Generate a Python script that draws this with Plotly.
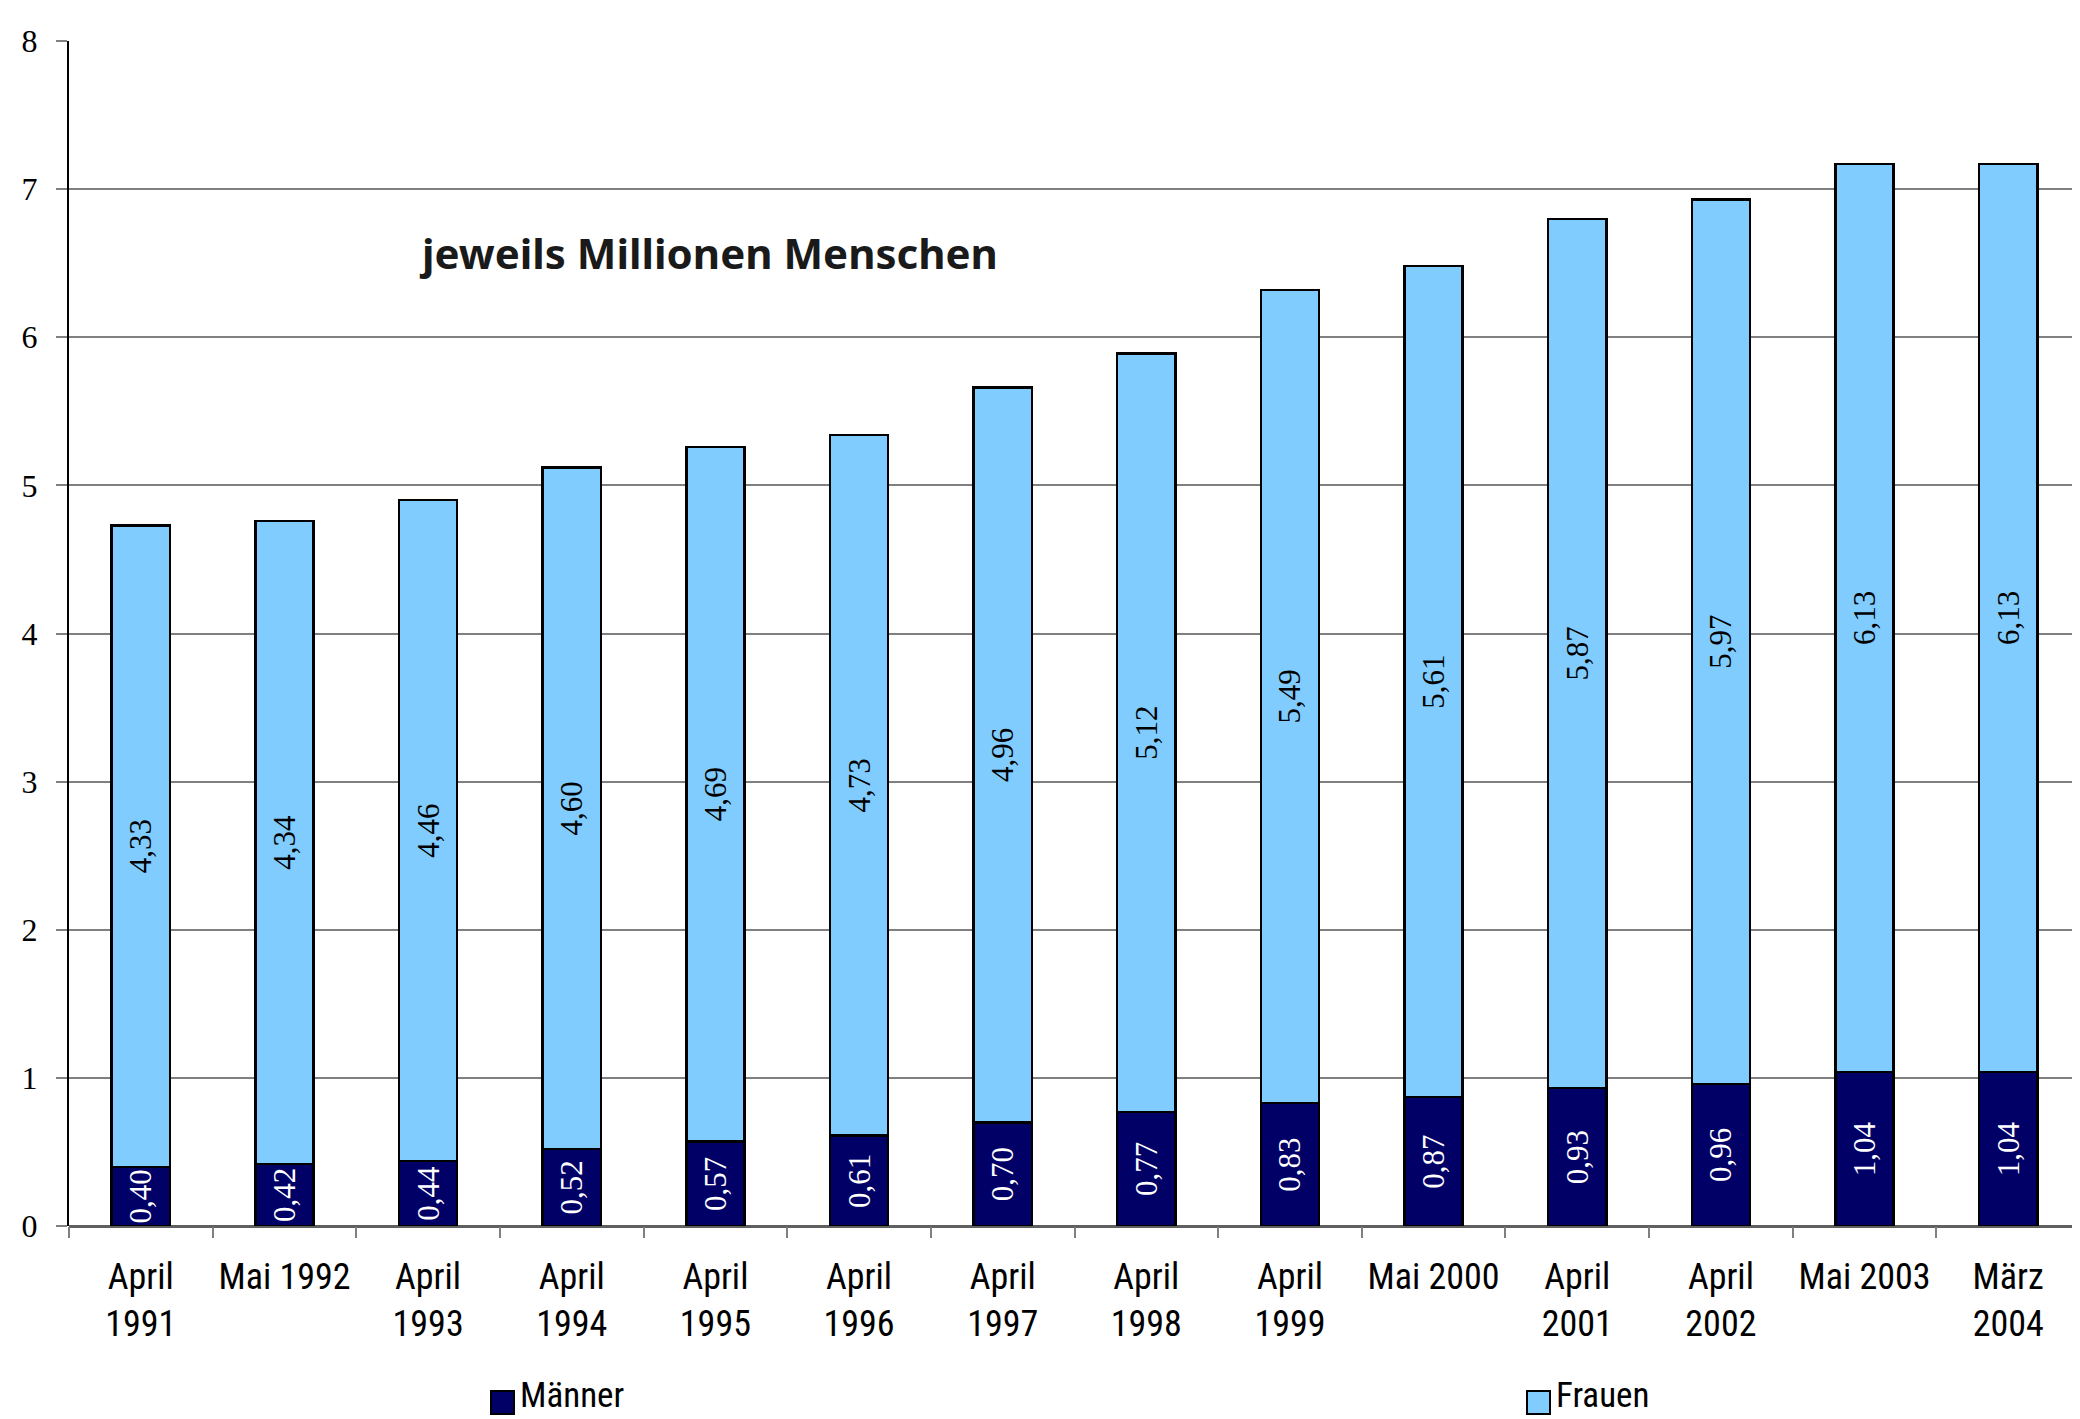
import plotly.graph_objects as go

categories = ["April 1991", "Mai 1992", "April 1993", "April 1994", "April 1995",
              "April 1996", "April 1997", "April 1998", "April 1999", "Mai 2000",
              "April 2001", "April 2002", "Mai 2003", "März 2004"]
tick_labels = ["April<br>1991", "Mai 1992", "April<br>1993", "April<br>1994", "April<br>1995",
               "April<br>1996", "April<br>1997", "April<br>1998", "April<br>1999", "Mai 2000",
               "April<br>2001", "April<br>2002", "Mai 2003", "März<br>2004"]
maenner = [0.40, 0.42, 0.44, 0.52, 0.57, 0.61, 0.70, 0.77, 0.83, 0.87, 0.93, 0.96, 1.04, 1.04]
frauen = [4.33, 4.34, 4.46, 4.60, 4.69, 4.73, 4.96, 5.12, 5.49, 5.61, 5.87, 5.97, 6.13, 6.13]
y_ticks = [0, 1, 2, 3, 4, 5, 6, 7, 8]

def de(v):
    return f"{v:.2f}".replace(".", ",")

NAVY = "#000066"
LIGHT = "#80CCFF"
LABEL_FONT = "Liberation Serif, Times New Roman, serif"
SANS = "Liberation Sans Narrow, Roboto Condensed, Open Sans, sans-serif"

fig = go.Figure()
fig.add_trace(go.Bar(
    x=categories, y=maenner, name="Männer",
    marker=dict(color=NAVY, line=dict(color="black", width=2.5)),
    text=[de(v) for v in maenner], textposition="inside", insidetextanchor="middle",
    textangle=-90, constraintext="none",
    textfont=dict(family=LABEL_FONT, size=31, color="white"),
    showlegend=False,
))
fig.add_trace(go.Bar(
    x=categories, y=frauen, name="Frauen",
    marker=dict(color=LIGHT, line=dict(color="black", width=2.5)),
    text=[de(v) for v in frauen], textposition="inside", insidetextanchor="middle",
    textangle=-90, constraintext="none",
    textfont=dict(family=LABEL_FONT, size=31, color="black"),
    showlegend=False,
))

# page body has an 8px default margin, so the figure is sized/offset accordingly
W, H = 2072, 1411
ml, mr, mt, mb = 61, 0, 33, 193

fig.update_layout(
    width=W, height=H, barmode="stack", bargap=0.595,
    plot_bgcolor="white", paper_bgcolor="white",
    margin=dict(l=ml, r=mr, t=mt, b=mb, autoexpand=False),
    uniformtext=dict(mode=False),
    xaxis=dict(
        type="category", tickmode="array", tickvals=categories, ticktext=tick_labels,
        tickson="boundaries", ticks="outside", ticklen=11, tickcolor="#808080", tickwidth=2,
        showline=False, showgrid=False, automargin=False,
        tickfont=dict(family=SANS, size=36, color="black"),
        ticklabelstandoff=26,
    ),
    yaxis=dict(
        range=[0, 8], tickvals=y_ticks, ticks="outside", ticklen=11, tickcolor="#808080", tickwidth=2,
        showgrid=True, gridcolor="#808080", gridwidth=2, automargin=False,
        zeroline=True, zerolinecolor="#606060", zerolinewidth=3,
        showline=True, linecolor="black", linewidth=2,
        tickfont=dict(family=LABEL_FONT, size=32, color="black"),
        ticklabelstandoff=12,
    ),
)

fig.add_annotation(
    text="<b>jeweils Millionen Menschen</b>", xref="paper", yref="y",
    x=0.318, y=6.57, showarrow=False, xanchor="center", yanchor="middle",
    font=dict(family="Noto Sans, Open Sans, sans-serif", size=42, color="#1a1a1a"),
)

# legend (manual, bottom); pixel positions given in page coordinates
OFF = 8
def px_to_paper_x(px):
    return (px - OFF - ml) / (W - ml - mr)

def px_to_paper_y(py):
    return (H - mb - (py - OFF)) / (H - mt - mb)

for sq_x, col, label in [(491, NAVY, "Männer"), (1527, LIGHT, "Frauen")]:
    fig.add_shape(type="rect", xref="paper", yref="paper",
                  x0=px_to_paper_x(sq_x), x1=px_to_paper_x(sq_x + 23),
                  y0=px_to_paper_y(1414), y1=px_to_paper_y(1391),
                  fillcolor=col, line=dict(color="black", width=2))
    fig.add_annotation(text=label, xref="paper", yref="paper",
                       x=px_to_paper_x(sq_x + 28), y=px_to_paper_y(1395),
                       showarrow=False, xanchor="left", yanchor="middle", borderpad=0,
                       font=dict(family=SANS, size=35, color="black"))

fig.write_html("out.html")
